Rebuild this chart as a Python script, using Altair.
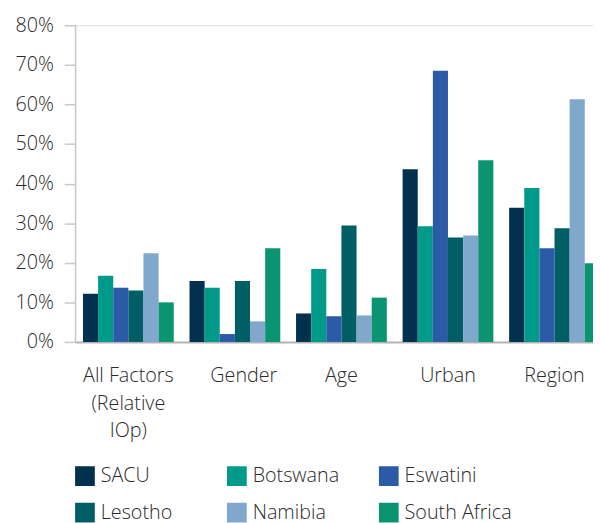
import altair as alt
import pandas as pd

factors = ["All Factors (Relative IOp)", "Gender", "Age", "Urban", "Region"]
countries = ["SACU", "Botswana", "Eswatini", "Lesotho", "Namibia", "South Africa"]
colors = ["#02304F", "#009A8A", "#2B5BA7", "#005E65", "#7FA8CC", "#0B9471"]

sacu = [12.2, 15.4, 7.2, 43.6, 33.9]
botswana = [16.7, 13.7, 18.4, 29.2, 38.9]
eswatini = [13.7, 2.0, 6.5, 68.5, 23.7]
lesotho = [13.0, 15.4, 29.4, 26.4, 28.7]
namibia = [22.4, 5.2, 6.7, 26.9, 61.3]
south_africa = [10.0, 23.7, 11.2, 45.9, 19.9]

series = [sacu, botswana, eswatini, lesotho, namibia, south_africa]
rows = []
for c, vals in zip(countries, series):
    for f, v in zip(factors, vals):
        rows.append({"factor": f, "country": c, "value": v})
df = pd.DataFrame(rows)

FONT = "Open Sans"
FW = 300
FS = 20
TXT = "#2a2a2a"

bars = alt.Chart(df).mark_bar().encode(
    x=alt.X("factor:N", sort=factors,
            scale=alt.Scale(range=[0, 540], paddingInner=0.148, paddingOuter=0.074),
            axis=alt.Axis(title=None, labelAngle=0, ticks=False, domain=True,
                          domainColor="#b3b3b3", domainWidth=2,
                          labelFontSize=FS, labelFont=FONT, labelColor=TXT, labelFontWeight=FW,
                          labelPadding=24, labelLineHeight=28, labelLimit=300,
                          labelOffset={"condition": {"test": "datum.value == 'Gender'", "value": 9}, "value": 0},
                          labelExpr="datum.value == 'All Factors (Relative IOp)' ? ['All Factors', '(Relative', 'IOp)'] : datum.value")),
    xOffset=alt.XOffset("country:N", sort=countries,
                        scale=alt.Scale(paddingInner=0, paddingOuter=0)),
    y=alt.Y("value:Q", scale=alt.Scale(domain=[0, 80], nice=False),
            axis=alt.Axis(title=None, values=list(range(0, 81, 10)), grid=False,
                          labelExpr="datum.value + '%'",
                          domainColor="#c8c8c8", domainWidth=1.5,
                          tickColor="#c8c8c8", tickWidth=1.5, tickSize=11,
                          labelFontSize=FS, labelFont=FONT, labelColor=TXT, labelFontWeight=FW,
                          labelPadding=11)),
    color=alt.Color("country:N", sort=countries,
                    scale=alt.Scale(domain=countries, range=colors),
                    legend=alt.Legend(title=None, orient="none", legendX=0, legendY=447,
                                      direction="horizontal",
                                      columns=3, gridAlign="all", columnPadding=19,
                                      rowPadding=17, symbolType="square", symbolSize=400,
                                      symbolStrokeWidth=0, labelOffset=6,
                                      labelFontSize=FS, labelFont=FONT, labelColor=TXT,
                                      labelFontWeight=FW,
                                      padding=0, offset=0)),
)

chart = bars.properties(
    width=525, height=321,
    autosize=alt.AutoSizeParams(type="none"),
    padding={"left": 68, "top": 14, "right": 0, "bottom": 180},
).configure_view(stroke=None).configure(background="white")

chart.save("out.html", embed_options={"renderer": "svg", "actions": False})
